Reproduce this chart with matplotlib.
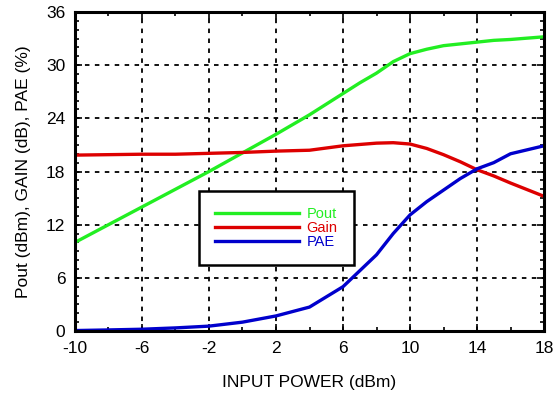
import numpy as np
import matplotlib.pyplot as plt
from matplotlib.ticker import MultipleLocator

plt.rcParams['font.family'] = ['Liberation Sans', 'DejaVu Sans']
plt.rcParams['axes.unicode_minus'] = False

# Data
pin = [-10, -8, -6, -4, -2, 0, 2, 4, 6, 7, 8, 9, 10, 11, 12, 13, 14, 15, 16, 18]
pout = [10.0, 12.0, 14.0, 16.0, 18.0, 20.1, 22.2, 24.4, 26.8, 28.0, 29.1, 30.4, 31.3,
        31.8, 32.2, 32.4, 32.6, 32.8, 32.9, 33.2]
gain = [19.85, 19.9, 19.95, 19.95, 20.05, 20.15, 20.3, 20.4, 20.9, 21.05, 21.2, 21.25, 21.1,
        20.6, 19.9, 19.1, 18.2, 17.5, 16.7, 15.2]
pae = [0.05, 0.12, 0.2, 0.35, 0.55, 1.0, 1.7, 2.7, 5.0, 6.8, 8.6, 11.0, 13.1,
       14.6, 15.9, 17.2, 18.3, 19.0, 20.0, 20.9]
xticks = [-10, -6, -2, 2, 6, 10, 14, 18]

fig = plt.figure(figsize=(5.57, 4.0), dpi=100)
ax = fig.add_axes([75/557, 1 - 331/400, 469/557, 319/400])

ax.plot(pin, pout, color='#22ee22', lw=2.4, label='Pout')
ax.plot(pin, gain, color='#dd0000', lw=2.4, label='Gain')
ax.plot(pin, pae, color='#0000cc', lw=2.4, label='PAE')

ax.set_xlim(-10, 18)
ax.set_ylim(0, 36)
ax.set_xticks(xticks)
ax.xaxis.set_minor_locator(MultipleLocator(2))
ax.yaxis.set_major_locator(MultipleLocator(6))
ax.yaxis.set_minor_locator(MultipleLocator(1))
ax.tick_params(which='both', direction='in', top=True, right=True, width=1.2, labelsize=12.5)
ax.tick_params(which='major', length=5, pad=7)
ax.tick_params(which='minor', length=3)
for s in ax.spines.values():
    s.set_linewidth(2.2)
ax.grid(True, color='black', linestyle=(0, (2.5, 3)), linewidth=1.3)

ax.set_xlabel('INPUT POWER (dBm)', fontsize=12.5, labelpad=14)
ax.set_ylabel('Pout (dBm), GAIN (dB), PAE (%)', fontsize=12.5, labelpad=11)

leg = ax.legend(loc='center', bbox_to_anchor=(0.429, 0.323), fontsize=10.5, frameon=True,
                fancybox=False, edgecolor='black', framealpha=1, handlelength=5.8,
                handletextpad=0.5, labelspacing=-0.02, borderpad=1.1, borderaxespad=0)
leg.get_frame().set_linewidth(1.8)
for txt, line in zip(leg.get_texts(), leg.get_lines()):
    txt.set_color(line.get_color())

fig.savefig('out.png', dpi=100)
